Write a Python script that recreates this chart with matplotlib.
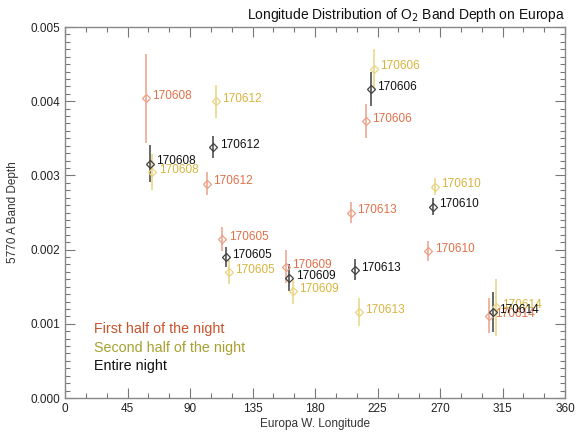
import matplotlib
matplotlib.use("Agg")
import matplotlib.pyplot as plt
from matplotlib.ticker import MultipleLocator

plt.rcParams['font.family'] = ['Liberation Sans', 'DejaVu Sans']

# First half of the night
first_labels = ["170608", "170612", "170605", "170609", "170606", "170613", "170610", "170614"]
first_lon = [58.1, 102.0, 113.3, 158.9, 216.5, 205.7, 261.6, 305.3]
first_val = [0.00404, 0.00289, 0.00214, 0.00177, 0.00373, 0.00250, 0.00198, 0.00111]
first_err = [0.00060, 0.00016, 0.00016, 0.00022, 0.00023, 0.00014, 0.00014, 0.00024]

# Second half of the night
second_labels = ["170612", "170608", "170605", "170609", "170606", "170613", "170610", "170614"]
second_lon = [108.9, 62.9, 117.8, 163.9, 222.2, 211.4, 266.1, 310.3]
second_val = [0.00400, 0.00305, 0.00170, 0.00144, 0.00444, 0.00116, 0.00285, 0.00122]
second_err = [0.00022, 0.00024, 0.00016, 0.00017, 0.00026, 0.00019, 0.00012, 0.00038]

# Entire night
entire_labels = ["170608", "170612", "170605", "170609", "170606", "170613", "170610", "170614"]
entire_lon = [61.4, 106.8, 115.7, 161.5, 220.1, 208.8, 264.9, 307.9]
entire_val = [0.00316, 0.00338, 0.00190, 0.00162, 0.00417, 0.00173, 0.00258, 0.00116]
entire_err = [0.00025, 0.00015, 0.00013, 0.00018, 0.00023, 0.00014, 0.00012, 0.00027]

legend_texts = ["First half of the night", "Second half of the night", "Entire night"]

fig = plt.figure(figsize=(5.81, 4.37), dpi=100)
ax = fig.add_axes([0.1119, 0.0892, 0.8606, 0.849])

series = [
    (first_lon, first_val, first_err, first_labels, '#eba088', '#e07048'),
    (second_lon, second_val, second_err, second_labels, '#ead480', '#d8b43c'),
    (entire_lon, entire_val, entire_err, entire_labels, '#404040', '#111111'),
]
for lon, val, err, labs, ecol, tcol in series:
    ax.errorbar(lon, val, yerr=err, fmt='D', mfc='none', mec=ecol, ms=4.5,
                mew=0.9, ecolor=ecol, elinewidth=1.1, capsize=0, zorder=3)
    for x, y, t in zip(lon, val, labs):
        ax.annotate(t, (x, y), xytext=(4.5, 1.5), textcoords='offset points',
                    color=tcol, fontsize=8.5, va='center', ha='left', zorder=4)

leg_cols = ['#c8532c', '#a8a030', '#111111']
for i, (t, c) in enumerate(zip(legend_texts, leg_cols)):
    ax.text(0.058, 0.186 - i * 0.0505, t, color=c, fontsize=10.3,
            transform=ax.transAxes, va='center', ha='left')

ax.set_xlim(0, 360)
ax.set_ylim(0, 0.005)
ax.xaxis.set_major_locator(MultipleLocator(45))
ax.xaxis.set_minor_locator(MultipleLocator(15))
ax.yaxis.set_major_locator(MultipleLocator(0.001))
ax.yaxis.set_minor_locator(MultipleLocator(0.0001))
ax.yaxis.set_major_formatter(matplotlib.ticker.FormatStrFormatter('%.3f'))
ax.tick_params(which='both', direction='in', top=True, right=True,
               color='#777777', labelsize=8.5, labelcolor='#222222')
ax.tick_params(which='major', length=7, width=0.8)
ax.tick_params(which='minor', length=3.5, width=0.8)
for s in ax.spines.values():
    s.set_color('#888888')
    s.set_linewidth(1.0)

ax.set_xlabel("Europa W. Longitude", fontsize=8.5, color='#333333', labelpad=2)
ax.set_ylabel("5770 A Band Depth", fontsize=8.5, color='#333333', labelpad=8)
ax.set_title("Longitude Distribution of O$_2$ Band Depth on Europa", fontsize=10,
             loc='right', color='#111111', pad=6)

fig.savefig("out.png", dpi=100)
